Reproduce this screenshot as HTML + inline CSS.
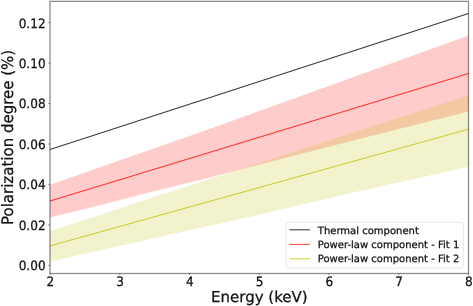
<!DOCTYPE html>
<html><head><meta charset="utf-8"><title>Polarization degree vs Energy</title>
<style>
html,body{margin:0;padding:0;background:#fff;}
body{width:473px;height:306px;overflow:hidden;}
svg{display:block;will-change:transform;}
text{text-rendering:geometricPrecision;}
text{font-family:"DejaVu Sans","Liberation Sans",sans-serif;fill:#111;stroke:#111;stroke-width:0.25px;}
.tk{font-size:12.1px;}
.lb{font-size:15px;}
.lg{font-size:10.03px;}
</style></head>
<body>
<svg width="473" height="306" viewBox="0 0 473 306">
<rect width="473" height="306" fill="#fff"/>
<!-- bands -->
<polygon points="50,184.8 206.6,130.1 468.5,35.5 468.5,111.5 350,141.2 200,179.9 150,192.3 100,205.2 50,217.4" fill="#ff0000" fill-opacity="0.2"/>
<polygon points="50,231.1 100,214.9 150,198.3 200,182.2 350,133.5 468.5,95.4 468.5,166.7 350,193.2 260,214.6 50,261.6" fill="#bfbf00" fill-opacity="0.2"/>
<!-- lines -->
<line x1="50" y1="149.5" x2="468.5" y2="13.6" stroke="#000" stroke-opacity="0.78" stroke-width="1.08"/>
<line x1="50" y1="201.1" x2="468.5" y2="73.6" stroke="#ff0000" stroke-opacity="0.75" stroke-width="1.02"/>
<line x1="50" y1="245.9" x2="468.5" y2="129.2" stroke="#bfbf00" stroke-opacity="0.82" stroke-width="0.98"/>
<!-- ticks -->
<g stroke="#000" stroke-opacity="0.45" stroke-width="1">
<line x1="50.00" y1="273.5" x2="50.00" y2="275.1"/>
<line x1="119.75" y1="273.5" x2="119.75" y2="275.1"/>
<line x1="189.50" y1="273.5" x2="189.50" y2="275.1"/>
<line x1="259.25" y1="273.5" x2="259.25" y2="275.1"/>
<line x1="329.00" y1="273.5" x2="329.00" y2="275.1"/>
<line x1="398.75" y1="273.5" x2="398.75" y2="275.1"/>
<line x1="468.50" y1="273.5" x2="468.50" y2="275.1"/>
<line x1="48.4" y1="22.5" x2="50" y2="22.5"/>
<line x1="48.4" y1="63.0" x2="50" y2="63.0"/>
<line x1="48.4" y1="103.5" x2="50" y2="103.5"/>
<line x1="48.4" y1="144.0" x2="50" y2="144.0"/>
<line x1="48.4" y1="184.4" x2="50" y2="184.4"/>
<line x1="48.4" y1="224.9" x2="50" y2="224.9"/>
<line x1="48.4" y1="265.4" x2="50" y2="265.4"/>
</g>
<!-- spines -->
<rect x="50" y="1.35" width="418.5" height="272.15" fill="none" stroke="#000" stroke-opacity="0.45" stroke-width="1.3"/>
<!-- y tick labels -->
<g class="tk" text-anchor="end">
<text transform="translate(45.6,27.5) scale(1,1.07)">0.12</text>
<text transform="translate(45.6,67.9) scale(1,1.07)">0.10</text>
<text transform="translate(45.6,108.4) scale(1,1.07)">0.08</text>
<text transform="translate(45.6,148.9) scale(1,1.07)">0.06</text>
<text transform="translate(45.6,189.3) scale(1,1.07)">0.04</text>
<text transform="translate(45.6,229.8) scale(1,1.07)">0.02</text>
<text transform="translate(45.6,270.4) scale(1,1.07)">0.00</text>
</g>
<!-- x tick labels -->
<g class="tk" text-anchor="middle">
<text transform="translate(50.30,286.2) scale(1,1.07)">2</text>
<text transform="translate(120.05,286.2) scale(1,1.07)">3</text>
<text transform="translate(189.80,286.2) scale(1,1.07)">4</text>
<text transform="translate(259.55,286.2) scale(1,1.07)">5</text>
<text transform="translate(329.30,286.2) scale(1,1.07)">6</text>
<text transform="translate(399.05,286.2) scale(1,1.07)">7</text>
<text transform="translate(468.80,286.2) scale(1,1.07)">8</text>
</g>
<text class="lb" x="259.4" y="302.2" text-anchor="middle">Energy (keV)</text>
<text class="lb" transform="translate(12.7,137.4) rotate(-90) scale(1,1.05)" text-anchor="middle">Polarization degree (%)</text>
<!-- legend -->
<rect x="286.1" y="222.2" width="177.2" height="45.9" rx="2.2" ry="2.2" fill="#fff" fill-opacity="0.8" stroke="#ccc" stroke-opacity="0.6" stroke-width="0.8"/>
<line x1="289.5" y1="229.8" x2="309.8" y2="229.8" stroke="#000" stroke-opacity="0.78" stroke-width="1.08"/>
<line x1="289.5" y1="244.4" x2="309.8" y2="244.4" stroke="#ff0000" stroke-opacity="0.75" stroke-width="1.02"/>
<line x1="289.5" y1="258.85" x2="309.8" y2="258.85" stroke="#bfbf00" stroke-opacity="0.82" stroke-width="0.98"/>
<g class="lg">
<text x="317.8" y="233.7">Thermal component</text>
<text x="317.8" y="248">Power-law component - Fit 1</text>
<text x="317.8" y="262.2">Power-law component - Fit 2</text>
</g>
</svg>
</body></html>
